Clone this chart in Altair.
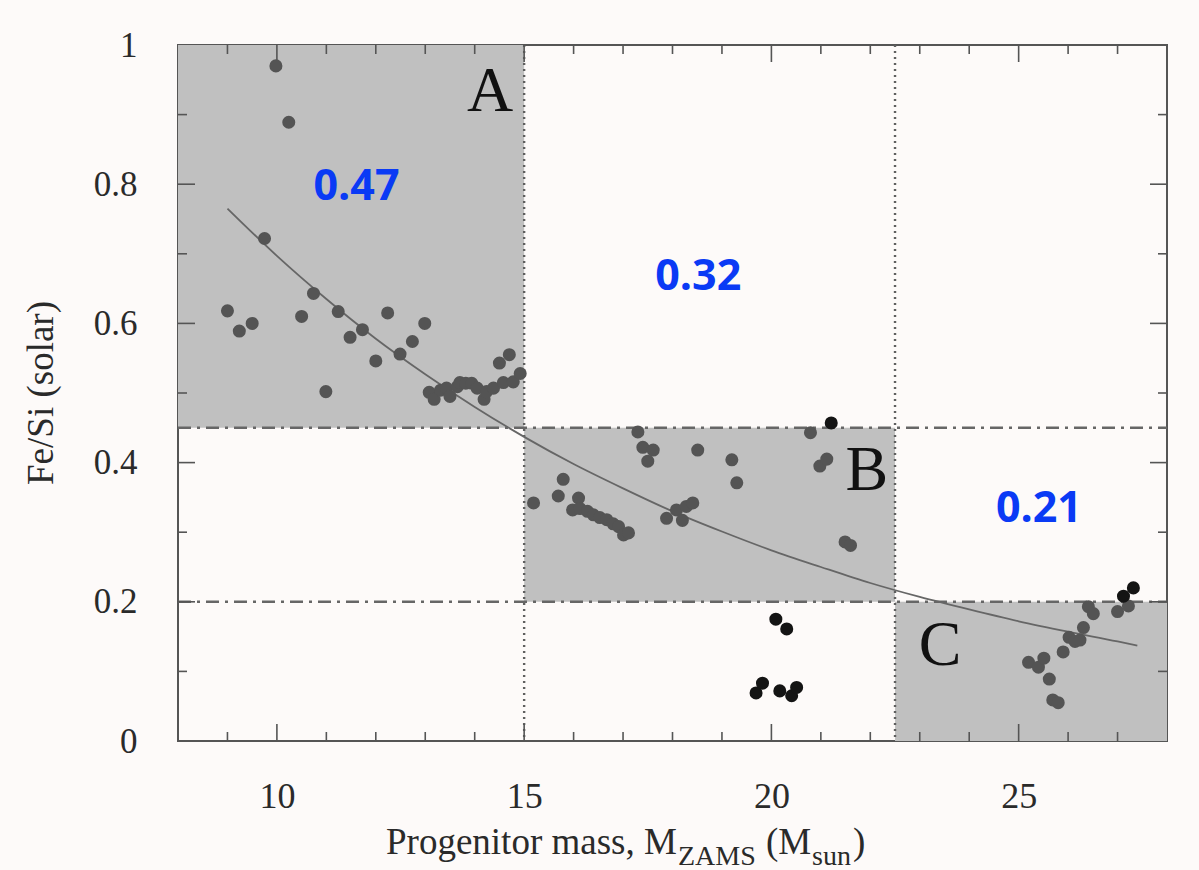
import altair as alt
import pandas as pd

W, H = 989, 696
SERIF = "Liberation Serif"

# shaded regions (A, B, C)
reg_x0 = [8, 15, 22.5]
reg_x1 = [15, 22.5, 28]
reg_y0 = [0.45, 0.2, 0.0]
reg_y1 = [1.0, 0.45, 0.2]

# boundary lines
vlines = [15, 22.5]
hlines = [0.45, 0.2]

# fitted curve
curve_x = [9, 10, 11, 12, 13, 14, 15, 16, 17, 18, 19, 20, 21, 22, 23, 24, 25, 26, 27, 27.4]
curve_y = [0.765, 0.697, 0.635, 0.578, 0.527, 0.480, 0.437, 0.398, 0.363, 0.330, 0.301,
           0.274, 0.250, 0.227, 0.207, 0.189, 0.172, 0.157, 0.143, 0.137]

# grey points
gray_x = [9.00, 9.24, 9.50, 9.75, 9.98, 10.24, 10.50, 10.74, 10.99, 11.24, 11.48, 11.73, 12.00,
          12.24, 12.49, 12.74, 12.99, 13.08, 13.18, 13.31, 13.43, 13.50, 13.65, 13.70, 13.82,
          13.94, 14.05, 14.19, 14.24, 14.38, 14.50, 14.58, 14.70, 14.78, 14.92,
          15.19, 15.69, 15.79, 15.98, 16.10, 16.13, 16.28, 16.40, 16.53, 16.67, 16.80, 16.91,
          17.01, 17.11, 17.30, 17.40, 17.50, 17.61, 17.88, 18.08, 18.20, 18.28, 18.41, 18.51,
          19.20, 19.30, 20.79, 20.98, 21.12, 21.49, 21.60,
          25.20, 25.40, 25.51, 25.62, 25.69, 25.80, 25.90, 26.02, 26.14, 26.24, 26.31, 26.41,
          26.51, 27.00, 27.22]
gray_y = [0.618, 0.589, 0.600, 0.722, 0.970, 0.889, 0.610, 0.643, 0.502, 0.617, 0.580, 0.591, 0.546,
          0.615, 0.556, 0.574, 0.600, 0.501, 0.491, 0.504, 0.507, 0.495, 0.509, 0.515, 0.514,
          0.514, 0.507, 0.491, 0.502, 0.507, 0.543, 0.515, 0.555, 0.516, 0.528,
          0.342, 0.352, 0.376, 0.332, 0.349, 0.334, 0.330, 0.325, 0.321, 0.318, 0.312, 0.308,
          0.296, 0.299, 0.444, 0.422, 0.402, 0.418, 0.320, 0.332, 0.317, 0.337, 0.342, 0.418,
          0.404, 0.371, 0.443, 0.395, 0.405, 0.286, 0.281,
          0.113, 0.106, 0.119, 0.089, 0.059, 0.055, 0.128, 0.149, 0.143, 0.145, 0.163, 0.193,
          0.183, 0.186, 0.194]

# black points
black_x = [21.21, 20.09, 20.31, 19.69, 19.82, 20.17, 20.41, 20.51, 27.12, 27.32]
black_y = [0.457, 0.175, 0.161, 0.069, 0.083, 0.072, 0.065, 0.077, 0.208, 0.220]

# region letters
letter_text = ["A", "B", "C"]
letter_x = [14.31, 21.93, 23.41]
letter_y = [0.905, 0.361, 0.109]

# blue values
value_text = ["0.47", "0.32", "0.21"]
value_x = [11.61, 18.52, 25.41]
value_y = [0.777, 0.648, 0.315]

# ticks
x_major = [10, 15, 20, 25]
x_minor = [9, 11, 12, 13, 14, 16, 17, 18, 19, 21, 22, 23, 24, 26, 27]
y_labels = [0, 0.2, 0.4, 0.6, 0.8, 1]
y_major = [0.2, 0.4, 0.6, 0.8]
y_minor = [0.1, 0.3, 0.5, 0.7, 0.9]

xs = alt.Scale(domain=[8, 28], nice=False, zero=False)
ys = alt.Scale(domain=[0, 1], nice=False, zero=False)

regions = pd.DataFrame({"x0": reg_x0, "x1": reg_x1, "y0": reg_y0, "y1": reg_y1})
rects = alt.Chart(regions).mark_rect(color="#C0C0C0").encode(
    x=alt.X("x0:Q", scale=xs,
            axis=alt.Axis(values=x_major, ticks=False, domain=False, grid=False,
                          labelFont=SERIF, labelFontSize=36, labelColor="#2a2a2a",
                          labelPadding=38, title=None, format="d")),
    x2="x1:Q",
    y=alt.Y("y0:Q", scale=ys,
            axis=alt.Axis(values=y_labels, ticks=False, domain=False, grid=False,
                          labelFont=SERIF, labelFontSize=35, labelColor="#2a2a2a",
                          labelPadding=41, labelExpr="datum.value + ''", title=None)),
    y2="y1:Q",
)

vl = alt.Chart(pd.DataFrame({"x": vlines})).mark_rule(
    color="#5f5f5f", strokeWidth=2.4, strokeDash=[2, 4]).encode(
    x=alt.X("x:Q", scale=xs), y=alt.value(0), y2=alt.value(H))

hl = alt.Chart(pd.DataFrame({"y": hlines})).mark_rule(
    color="#666666", strokeWidth=2.4, strokeDash=[13, 6, 3, 6]).encode(
    y=alt.Y("y:Q", scale=ys), x=alt.value(0), x2=alt.value(W))

curve = alt.Chart(pd.DataFrame({"x": curve_x, "y": curve_y})).mark_line(
    color="#666666", strokeWidth=1.8, interpolate="monotone").encode(
    x=alt.X("x:Q", scale=xs), y=alt.Y("y:Q", scale=ys))

gpts = alt.Chart(pd.DataFrame({"x": gray_x, "y": gray_y})).mark_circle(
    color="#545454", opacity=1, size=170).encode(
    x=alt.X("x:Q", scale=xs), y=alt.Y("y:Q", scale=ys))

bpts = alt.Chart(pd.DataFrame({"x": black_x, "y": black_y})).mark_circle(
    color="#141414", opacity=1, size=170).encode(
    x=alt.X("x:Q", scale=xs), y=alt.Y("y:Q", scale=ys))

letters = alt.Chart(pd.DataFrame({"t": letter_text, "x": letter_x, "y": letter_y})).mark_text(
    font=SERIF, fontSize=64, color="#111111", align="center", baseline="alphabetic").encode(
    x=alt.X("x:Q", scale=xs), y=alt.Y("y:Q", scale=ys), text="t:N")

values = alt.Chart(pd.DataFrame({"t": value_text, "x": value_x, "y": value_y})).mark_text(
    font="Open Sans", fontSize=43, fontWeight="bold", color="#0a3af5",
    align="center", baseline="alphabetic").encode(
    x=alt.X("x:Q", scale=xs), y=alt.Y("y:Q", scale=ys), text="t:N")

TICK = "#555555"
def xticks(vals, y0, y1):
    return alt.Chart(pd.DataFrame({"v": vals})).mark_rule(color=TICK, strokeWidth=1.6).encode(
        x=alt.X("v:Q", scale=xs), y=alt.value(y0), y2=alt.value(y1))

def yticks(vals, x0, x1):
    return alt.Chart(pd.DataFrame({"v": vals})).mark_rule(color=TICK, strokeWidth=1.6).encode(
        y=alt.Y("v:Q", scale=ys), x=alt.value(x0), x2=alt.value(x1))

ticks = [
    xticks(x_major, H, H - 17), xticks(x_minor, H, H - 9),
    xticks(x_major, 0, 17), xticks(x_minor, 0, 9),
    yticks(y_major, 0, 17), yticks(y_minor, 0, 9),
    yticks(y_major, W, W - 17), yticks(y_minor, W, W - 9),
]

# y-axis title (rotated text)
ytitle = alt.Chart(pd.DataFrame({"t": ["Fe/Si (solar)"]})).mark_text(
    font=SERIF, fontSize=37, color="#2a2a2a", angle=270, align="center", baseline="middle").encode(
    text="t:N", x=alt.value(-136), y=alt.value(H / 2))

# x-axis title with subscripts
title_parts = ["Progenitor mass, M", "ZAMS", "(M", "sun", ")"]
title_px = [208, 500, 588, 634, 675]
title_py = [809, 820, 809, 820, 809]
title_fs = [37, 28, 37, 28, 37]
title_layers = []
for t, px, py, fs in zip(title_parts, title_px, title_py, title_fs):
    title_layers.append(
        alt.Chart(pd.DataFrame({"t": [t]})).mark_text(
            font=SERIF, fontSize=fs, color="#2a2a2a", align="left", baseline="alphabetic").encode(
            text="t:N", x=alt.value(px), y=alt.value(py)))

chart = alt.layer(rects, vl, hl, curve, gpts, bpts, letters, values, *ticks, ytitle,
                  *title_layers).properties(
    width=W, height=H,
    autosize=alt.AutoSizeParams(type="none"),
    padding={"left": 178, "top": 45, "right": 32, "bottom": 129},
    background="#FDFAF9",
).configure_view(
    stroke="#555555", strokeWidth=2, fill="#FDFAF9"
)

chart.save("out.html", embed_options={"renderer": "svg", "actions": False})
